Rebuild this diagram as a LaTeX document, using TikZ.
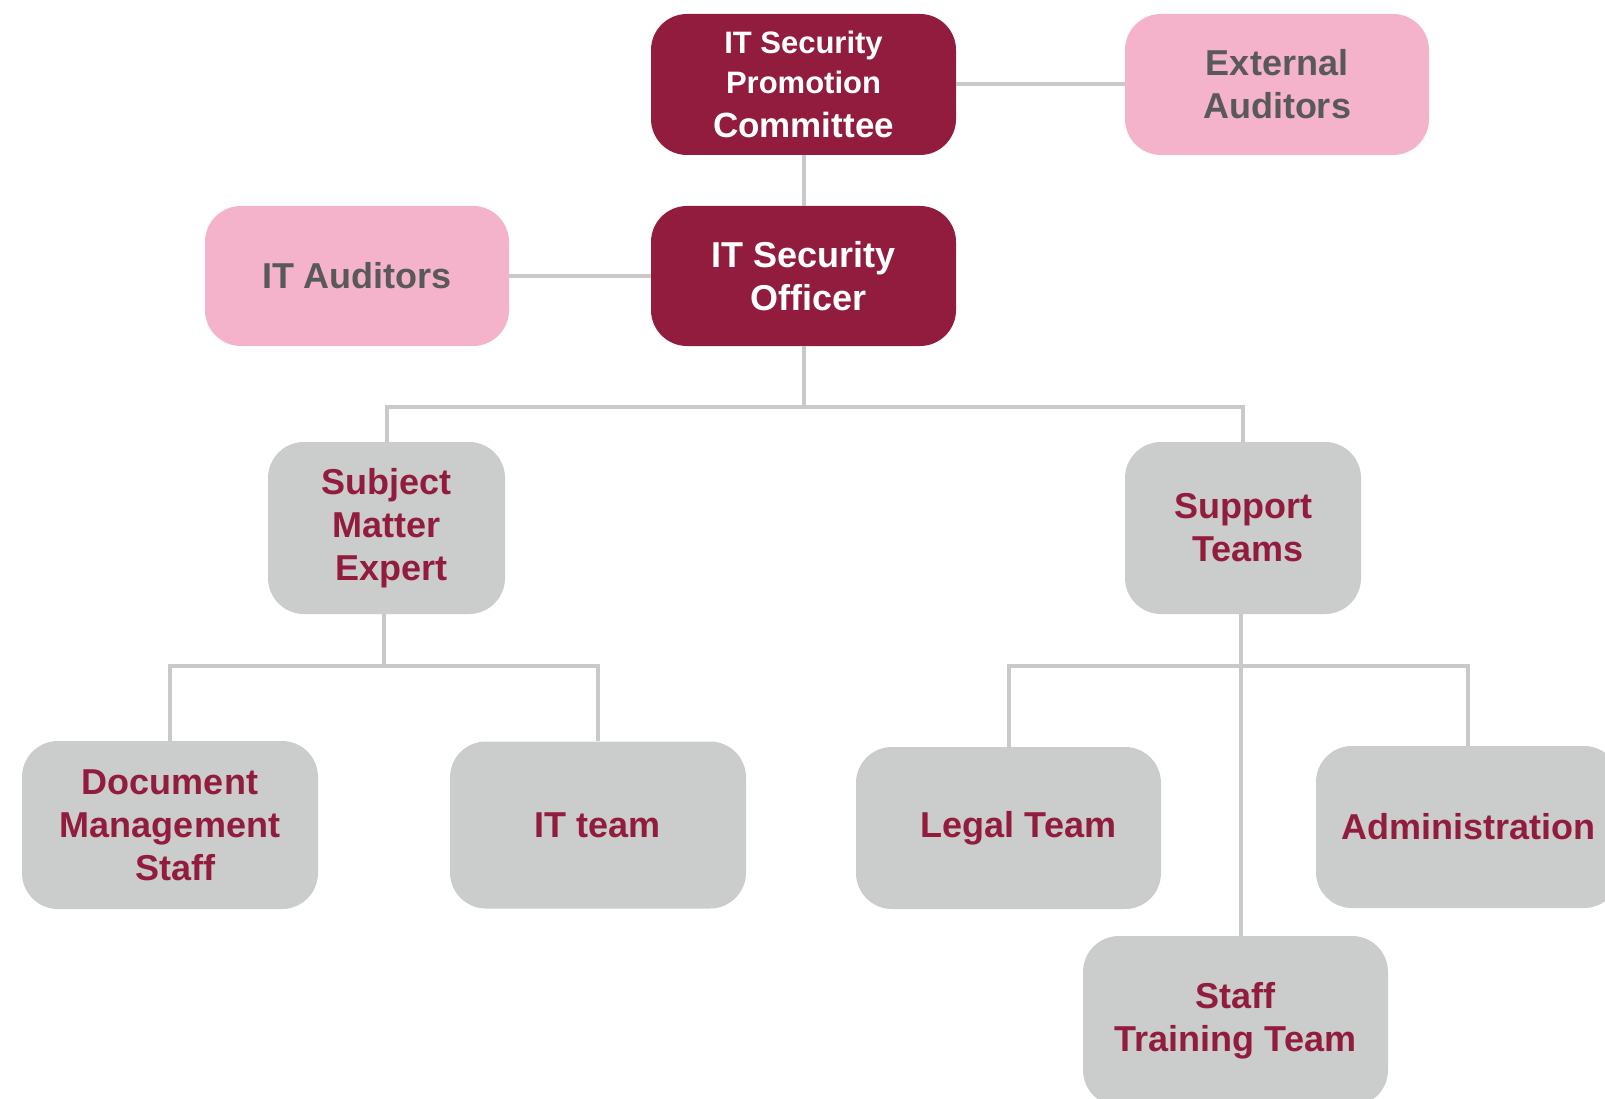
\documentclass[tikz,border=0pt]{standalone}
\usepackage{fontspec}
\setmainfont{Liberation Sans}
\definecolor{maroon}{HTML}{921C3E}
\definecolor{pinkbox}{HTML}{F5B3CB}
\definecolor{graybox}{HTML}{CBCCCC}
\definecolor{linegray}{HTML}{C9C9C9}
\definecolor{darktext}{HTML}{595959}
\begin{document}
\begin{tikzpicture}[x=1pt,y=-1pt,
  box/.style={rounded corners=36pt, inner sep=0pt, align=center,
    font=\bfseries\fontsize{36}{43}\selectfont},
  topbox/.style={box, fill=maroon, text=white},
  pbox/.style={box, fill=pinkbox, text=darktext},
  gbox/.style={box, fill=graybox, text=maroon},
  conn/.style={draw=linegray, line width=4pt}]
\useasboundingbox (0,0) rectangle (1605,1099);
\fill[white] (0,0) rectangle (1605,1099);
\clip (0,0) rectangle (1605,1099);

\node[topbox, minimum width=305pt, minimum height=141pt] (comm) at (803.5,84.5)
  {{\fontsize{31}{38}\selectfont IT Security}\\[-3pt]{\fontsize{31}{38}\selectfont Promotion}\\[1pt]{\fontsize{35}{42}\selectfont Committee}};
\node[pbox, minimum width=304pt, minimum height=141pt] (ext) at (1277,84.5) {External\\Auditors};
\node[pbox, minimum width=304pt, minimum height=140pt] (itaud) at (357,276) {IT Auditors};
\node[topbox, minimum width=305pt, minimum height=140pt] (off) at (803.5,276) {IT Security\\\ Officer};
\node[gbox, minimum width=237pt, minimum height=172pt] (sme) at (386.5,528) {Subject\\Matter\\\ Expert};
\node[gbox, minimum width=236pt, minimum height=172pt] (sup) at (1243,528) {Support\\\ Teams};
\node[gbox, minimum width=296pt, minimum height=168pt] (doc) at (170,825) {Document\\Management\\\ Staff};
\node[gbox, minimum width=296pt, minimum height=167pt] (itt) at (598,825) {IT team};
\node[gbox, minimum width=305pt, minimum height=162pt] (legal) at (1008.5,828) {\ \ Legal Team};
\node[gbox, minimum width=304pt, minimum height=162pt] (adm) at (1468,827) {Administration};
\node[gbox, minimum width=305pt, minimum height=170pt] (stt) at (1235.5,1021) {Staff\\Training Team};

\coordinate (ofork) at (803.5,407);
\coordinate (sfork) at (384,666);
\coordinate (tfork) at (1241,666);

\begin{scope}[on background layer/.try]
\end{scope}
\path[conn] (comm.south) -- (off.north);
\path[conn] (comm.east) -- (ext.west);
\path[conn] (itaud.east) -- (off.west);
\path[conn] (off.south) -- (ofork);
\path[conn] (sme.north) |- (ofork) -| (sup.north);
\path[conn] (sme.south -| sfork) -- (sfork);
\path[conn] (doc.north) |- (sfork) -| (itt.north);
\path[conn] (sup.south -| tfork) -- (stt.north -| tfork);
\path[conn] (legal.north) |- (tfork) -| (adm.north);
\end{tikzpicture}
\end{document}
